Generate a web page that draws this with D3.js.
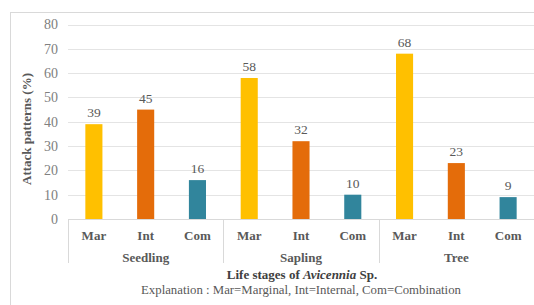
<!DOCTYPE html>
<html>
<head>
<meta charset="utf-8">
<script src="https://cdn.jsdelivr.net/npm/d3@7"></script>
<style>
  body { margin: 0; background: #fff; }
</style>
</head>
<body>
<div id="chart"></div>
<script>
// data
var groups = ["Seedling", "Sapling", "Tree"];
var categories = ["Mar", "Int", "Com"];
var seedling = [39, 45, 16];
var sapling = [58, 32, 10];
var tree = [68, 23, 9];
var yTicks = [0, 10, 20, 30, 40, 50, 60, 70, 80];
var colors = ["#FFC000", "#E46C0A", "#31859C"];

var width = 534, height = 305;
var plotLeft = 68, plotRight = 534, plotTop = 24.5, plotBottom = 219;

var svg = d3.select("#chart").append("svg")
    .attr("width", width)
    .attr("height", height)
    .attr("font-family", "'Liberation Serif', 'Times New Roman', 'DejaVu Serif', serif");

// chart frame (cut at right and bottom)
svg.append("rect")
    .attr("x", 10.5).attr("y", 12.5)
    .attr("width", 540).attr("height", 310)
    .attr("fill", "none")
    .attr("stroke", "#d9d9d9");

var values = [seedling, sapling, tree];
var rows = [];
groups.forEach(function (g, gi) {
    categories.forEach(function (c, ci) {
        rows.push({group: g, cat: c, ci: ci, key: g + "-" + c, value: values[gi][ci]});
    });
});

var x = d3.scaleBand()
    .domain(rows.map(function (d) { return d.key; }))
    .range([plotLeft, plotRight])
    .paddingInner(0.67)
    .paddingOuter(0.335);

var y = d3.scaleLinear().domain([0, 80]).range([plotBottom, plotTop]);

// gridlines
svg.append("g").selectAll("line")
    .data(yTicks.slice(1))
    .enter().append("line")
    .attr("x1", plotLeft).attr("x2", width)
    .attr("y1", function (d) { return Math.round(y(d)) + 0.5; })
    .attr("y2", function (d) { return Math.round(y(d)) + 0.5; })
    .attr("stroke", "#e4e4e4");

// y tick labels
svg.append("g").selectAll("text")
    .data(yTicks)
    .enter().append("text")
    .attr("x", 58)
    .attr("y", function (d) { return y(d); })
    .attr("dy", "0.35em")
    .attr("text-anchor", "end")
    .attr("font-size", 14)
    .attr("fill", "#808080")
    .text(function (d) { return d; });

// bars
svg.append("g").selectAll("rect")
    .data(rows)
    .enter().append("rect")
    .attr("x", function (d) { return x(d.key); })
    .attr("y", function (d) { return y(d.value); })
    .attr("width", x.bandwidth())
    .attr("height", function (d) { return y(0) - y(d.value); })
    .attr("fill", function (d) { return colors[d.ci]; });

// value labels
svg.append("g").selectAll("text")
    .data(rows)
    .enter().append("text")
    .attr("x", function (d) { return x(d.key) + x.bandwidth() / 2; })
    .attr("y", function (d) { return y(d.value) - 7; })
    .attr("text-anchor", "middle")
    .attr("font-size", 13.5)
    .attr("fill", "#595959")
    .text(function (d) { return d.value; });

// x axis line and group separators
svg.append("line")
    .attr("x1", plotLeft).attr("x2", width)
    .attr("y1", plotBottom + 0.5).attr("y2", plotBottom + 0.5)
    .attr("stroke", "#d9d9d9");

var step = x.step();
groups.forEach(function (g, gi) {
    var gx = x(g + "-" + categories[0]) - x.paddingOuter() * step;
    svg.append("line")
        .attr("x1", Math.round(gx) + 0.5).attr("x2", Math.round(gx) + 0.5)
        .attr("y1", plotBottom).attr("y2", 263)
        .attr("stroke", "#d9d9d9");
    svg.append("text")
        .attr("x", gx + step * categories.length / 2)
        .attr("y", 261.5)
        .attr("text-anchor", "middle")
        .attr("font-size", 13)
        .attr("font-weight", "bold")
        .attr("fill", "#595959")
        .text(g);
});

// category labels
svg.append("g").selectAll("text")
    .data(rows)
    .enter().append("text")
    .attr("x", function (d) { return x(d.key) + x.bandwidth() / 2; })
    .attr("y", 239.5)
    .attr("text-anchor", "middle")
    .attr("font-size", 13)
    .attr("font-weight", "bold")
    .attr("fill", "#595959")
    .text(function (d) { return d.cat; });

// axis titles
var xt = svg.append("text")
    .attr("x", 302).attr("y", 278.5)
    .attr("text-anchor", "middle")
    .attr("font-size", 13)
    .attr("font-weight", "bold")
    .attr("fill", "#404040");
xt.append("tspan").text("Life stages of ");
xt.append("tspan").attr("font-style", "italic").text("Avicennia");
xt.append("tspan").text(" Sp.");

svg.append("text")
    .attr("x", 301).attr("y", 293.5)
    .attr("text-anchor", "middle")
    .attr("font-size", 12.8)
    .attr("fill", "#595959")
    .text("Explanation : Mar=Marginal, Int=Internal,  Com=Combination");

svg.append("text")
    .attr("transform", "translate(31,129) rotate(-90)")
    .attr("text-anchor", "middle")
    .attr("font-size", 13)
    .attr("font-weight", "bold")
    .attr("fill", "#595959")
    .text("Attack patterns (%)");
</script>
</body>
</html>
